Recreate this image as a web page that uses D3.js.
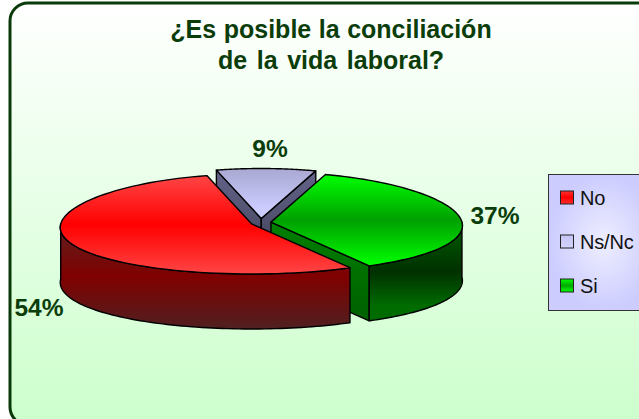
<!DOCTYPE html>
<html><head><meta charset="utf-8">
<script src="https://cdn.jsdelivr.net/npm/d3@7"></script>
<style>html,body{margin:0;padding:0;background:#fff}svg{display:block}text{font-family:"Liberation Sans",Arial,sans-serif}</style>
</head><body><svg id="c" width="639" height="419"></svg>
<script>
const categories = ["No", "Ns/Nc", "Si"];
const values = [54, 9, 37];
const titleLines = ["¿Es posible la conciliación", "de la vida laboral?"];

const W = 639, H = 419;
const svg = d3.select("#c");
const defs = svg.append("defs");
function lin(id, stops) {
  const g = defs.append("linearGradient").attr("id", id).attr("x1", 0).attr("x2", 0).attr("y1", 0).attr("y2", 1);
  stops.forEach(s => g.append("stop").attr("offset", s[0]).attr("stop-color", s[1]));
}
lin("bg", [[0, "#ffffff"], [1, "#ccffcc"]]);
lin("topNo", [[0, "#ff4545"], [0.5, "#ff0000"], [1, "#ff4545"]]);
lin("topNs", [[0, "#a8a8d2"], [0.8, "#ccccff"], [1, "#ccccff"]]);
lin("topSi", [[0, "#00ff00"], [0.5, "#00a000"], [1, "#00ff00"]]);
lin("sideNo", [[0, "#5e2020"], [0.5, "#800000"], [1, "#502020"]]);
lin("sideSi", [[0, "#006000"], [0.5, "#003000"], [0.85, "#006c00"], [1, "#006c00"]]);
lin("wallSi", [[0, "#008000"], [1, "#006000"]]);
lin("wallNs", [[0, "#63638a"], [1, "#3c3c50"]]);
const rg = defs.append("radialGradient").attr("id", "lg");
rg.append("stop").attr("offset", 0).attr("stop-color", "#eeeeff");
rg.append("stop").attr("offset", 1).attr("stop-color", "#ccccff");
lin("swNo", [[0, "#ff3030"], [0.5, "#ff0000"], [1, "#ff3030"]]);
lin("swNs", [[0, "#c4c4f4"], [1, "#d4d4ff"]]);
lin("swSi", [[0, "#00ff00"], [0.5, "#00a800"], [1, "#00ff00"]]);

// frame
svg.append("rect").attr("x", 10).attr("y", 3).attr("width", 660).attr("height", 422).attr("rx", 18)
  .attr("fill", "url(#bg)").attr("stroke", "#0a3a0a").attr("stroke-width", 3);

// title
const INK = "#0a3d0a";
svg.selectAll("text.title").data(titleLines).join("text").attr("class", "title")
  .attr("x", 331).attr("y", (d, i) => 38 + i * 31).attr("text-anchor", "middle")
  .attr("font-size", 25).attr("font-weight", "bold").attr("fill", INK)
  .attr("word-spacing", (d, i) => i ? 2.7 : 0.6).text(d => d);

// pie geometry
const cx = 261, cy = 222.5, rx = 191, ry = 50, depth = 55, persp = 0.07, ex = 10, ey = 4;
const deg = Math.PI / 180;
const arcs = d3.pie().sort(null).value(d => d).startAngle(151 * deg).endAngle(511 * deg)(values);
arcs.forEach((a, i) => {
  const m = (a.startAngle + a.endAngle) / 2;
  a.name = categories[i];
  a.cx = cx + ex * Math.sin(m);
  a.cy = cy - ey * Math.cos(m);
});
const pt = (a, t, dz = 0) => [a.cx + rx * Math.sin(t) * (1 - persp * Math.cos(t)), a.cy - ry * Math.cos(t) + dz];
const sweep = (a, t0, t1, dz) => d3.range(0, 81).map(k => pt(a, t0 + (t1 - t0) * k / 80, dz));
const line = d3.line();
const outline = sel => sel.attr("stroke", "#000").attr("stroke-width", 1.4).attr("stroke-linejoin", "round");

function topFace(a, fill) {
  const p = [[a.cx, a.cy]].concat(sweep(a, a.startAngle, a.endAngle, 0));
  svg.append("path").attr("d", line(p) + "Z").attr("fill", fill).call(outline);
}
function outer(a, t0, t1, fill) {
  const p = sweep(a, t0, t1, 0).concat(sweep(a, t1, t0, depth));
  svg.append("path").attr("d", line(p) + "Z").attr("fill", fill).call(outline);
}
function wall(a, t, fill) {
  const e = pt(a, t);
  const p = [[a.cx, a.cy], e, [e[0], e[1] + depth], [a.cx, a.cy + depth]];
  svg.append("path").attr("d", line(p) + "Z").attr("fill", fill).call(outline);
}

const [no, ns, si] = arcs;
// back slice
wall(ns, ns.startAngle, "url(#wallNs)");
wall(ns, ns.endAngle, "url(#wallNs)");
topFace(ns, "url(#topNs)");
// right slice
wall(si, si.endAngle, "url(#wallSi)");
outer(si, 450 * deg, si.endAngle, "url(#sideSi)");
topFace(si, "url(#topSi)");
// left slice
outer(no, no.startAngle, 270 * deg, "url(#sideNo)");
topFace(no, "url(#topNo)");

// data labels
const labelPos = { "No": [39, 316], "Ns/Nc": [270, 157], "Si": [495, 224] };
svg.selectAll("text.lab").data(arcs).join("text").attr("class", "lab")
  .attr("x", d => labelPos[d.name][0]).attr("y", d => labelPos[d.name][1]).attr("text-anchor", "middle")
  .attr("font-size", 24.5).attr("font-weight", "bold").attr("fill", INK).text(d => d.value + "%");

// legend
svg.append("rect").attr("x", 548.5).attr("y", 174.5).attr("width", 110).attr("height", 136)
  .attr("fill", "url(#lg)").attr("stroke", "#333").attr("stroke-width", 1);
const ly = d3.scalePoint().domain(categories).range([197.5, 285.5]);
const swatch = { "No": "url(#swNo)", "Ns/Nc": "url(#swNs)", "Si": "url(#swSi)" };
svg.selectAll("rect.sw").data(categories).join("rect").attr("class", "sw")
  .attr("x", 560.5).attr("y", d => ly(d) - 6.5).attr("width", 13).attr("height", 13)
  .attr("fill", d => swatch[d]).attr("stroke", "#222").attr("stroke-width", 1);
svg.selectAll("text.lt").data(categories).join("text").attr("class", "lt")
  .attr("x", 580).attr("y", d => ly(d) + 7).attr("font-size", 20).attr("letter-spacing", -0.2).attr("fill", "#111").text(d => d);
</script></body></html>
